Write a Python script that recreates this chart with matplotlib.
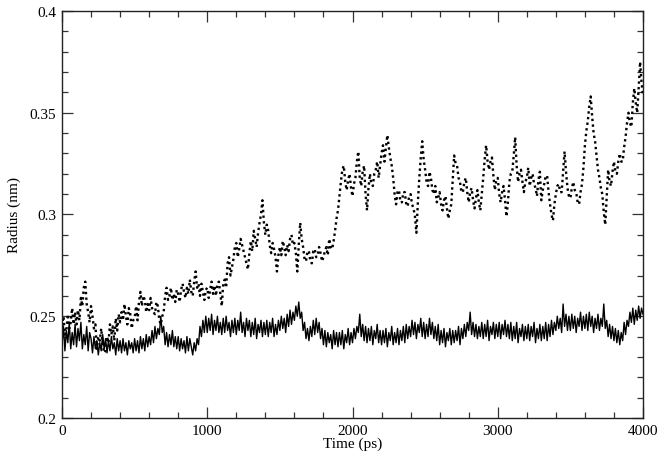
#!/usr/bin/env python3
"""Radius vs time for two trajectories, Grace-style plot."""
import numpy as np
import matplotlib

matplotlib.use("Agg")
import matplotlib.pyplot as plt
from matplotlib.ticker import MultipleLocator, FuncFormatter

STEP_PS = 10

# solid trace, one value every 10 ps from 0 to 4000 ps (one row = 100 ps)
radius_solid = [
    0.236, 0.245, 0.233, 0.243, 0.237, 0.247, 0.234, 0.242, 0.236, 0.246,
    0.235, 0.244, 0.238, 0.247, 0.234, 0.241, 0.236, 0.245, 0.233, 0.242,
    0.239, 0.232, 0.240, 0.234, 0.238, 0.231, 0.237, 0.233, 0.241, 0.234,
    0.239, 0.232, 0.238, 0.233, 0.240, 0.234, 0.237, 0.231, 0.239, 0.233,
    0.238, 0.232, 0.239, 0.233, 0.237, 0.231, 0.238, 0.234, 0.237, 0.232,
    0.239, 0.233, 0.238, 0.232, 0.240, 0.234, 0.239, 0.233, 0.241, 0.235,
    0.240, 0.236, 0.243, 0.237, 0.245, 0.239, 0.244, 0.241, 0.250, 0.242,
    0.245, 0.236, 0.242, 0.235, 0.241, 0.236, 0.243, 0.235, 0.240, 0.234,
    0.240, 0.233, 0.239, 0.234, 0.238, 0.232, 0.240, 0.233, 0.239, 0.235,
    0.231, 0.237, 0.233, 0.239, 0.236, 0.245, 0.240, 0.248, 0.242, 0.250,
    0.242, 0.249, 0.243, 0.251, 0.241, 0.248, 0.243, 0.250, 0.242, 0.247,
    0.241, 0.249, 0.242, 0.250, 0.243, 0.247, 0.240, 0.248, 0.242, 0.249,
    0.241, 0.248, 0.243, 0.252, 0.242, 0.247, 0.240, 0.249, 0.243, 0.248,
    0.240, 0.247, 0.241, 0.249, 0.239, 0.246, 0.242, 0.248, 0.240, 0.247,
    0.241, 0.248, 0.240, 0.247, 0.242, 0.249, 0.240, 0.246, 0.241, 0.248,
    0.243, 0.250, 0.244, 0.249, 0.242, 0.251, 0.245, 0.253, 0.246, 0.252,
    0.248, 0.255, 0.250, 0.257, 0.249, 0.252, 0.243, 0.247, 0.239, 0.244,
    0.238, 0.245, 0.240, 0.248, 0.241, 0.249, 0.242, 0.247, 0.239, 0.244,
    0.236, 0.243, 0.235, 0.242, 0.237, 0.241, 0.234, 0.243, 0.236, 0.242,
    0.235, 0.242, 0.236, 0.243, 0.234, 0.241, 0.237, 0.244, 0.236, 0.242,
    0.237, 0.244, 0.239, 0.245, 0.242, 0.251, 0.240, 0.246, 0.238, 0.245,
    0.237, 0.244, 0.238, 0.245, 0.236, 0.243, 0.239, 0.246, 0.237, 0.243,
    0.236, 0.243, 0.237, 0.244, 0.235, 0.242, 0.238, 0.245, 0.236, 0.242,
    0.237, 0.244, 0.236, 0.243, 0.238, 0.245, 0.237, 0.246, 0.239, 0.245,
    0.240, 0.248, 0.241, 0.247, 0.239, 0.246, 0.242, 0.249, 0.240, 0.247,
    0.239, 0.246, 0.240, 0.249, 0.241, 0.247, 0.239, 0.245, 0.238, 0.246,
    0.236, 0.243, 0.237, 0.244, 0.235, 0.242, 0.238, 0.244, 0.236, 0.243,
    0.237, 0.243, 0.238, 0.245, 0.236, 0.244, 0.239, 0.246, 0.240, 0.247,
    0.243, 0.252, 0.241, 0.247, 0.240, 0.246, 0.239, 0.245, 0.240, 0.247,
    0.239, 0.246, 0.240, 0.248, 0.238, 0.245, 0.241, 0.247, 0.239, 0.246,
    0.240, 0.247, 0.239, 0.246, 0.241, 0.248, 0.240, 0.246, 0.239, 0.247,
    0.238, 0.245, 0.239, 0.247, 0.237, 0.244, 0.240, 0.246, 0.238, 0.245,
    0.239, 0.246, 0.238, 0.245, 0.240, 0.247, 0.237, 0.244, 0.239, 0.246,
    0.238, 0.245, 0.239, 0.247, 0.238, 0.246, 0.240, 0.248, 0.241, 0.247,
    0.243, 0.250, 0.244, 0.249, 0.242, 0.256, 0.245, 0.251, 0.243, 0.250,
    0.243, 0.251, 0.244, 0.250, 0.242, 0.249, 0.245, 0.252, 0.243, 0.250,
    0.244, 0.251, 0.243, 0.252, 0.245, 0.250, 0.242, 0.249, 0.244, 0.251,
    0.243, 0.249, 0.245, 0.256, 0.244, 0.248, 0.240, 0.246, 0.239, 0.245,
    0.238, 0.244, 0.237, 0.243, 0.236, 0.242, 0.238, 0.247, 0.241, 0.248,
    0.245, 0.252, 0.247, 0.254, 0.246, 0.253, 0.248, 0.255, 0.249, 0.254,
    0.251,
]

# dotted trace, same sampling
radius_dotted = [
    0.245, 0.250, 0.241, 0.243, 0.251, 0.244, 0.247, 0.254, 0.246, 0.252,
    0.246, 0.253, 0.248, 0.259, 0.255, 0.264, 0.267, 0.256, 0.252, 0.247,
    0.255, 0.250, 0.244, 0.246, 0.234, 0.240, 0.238, 0.244, 0.236, 0.232,
    0.233, 0.240, 0.237, 0.246, 0.241, 0.245, 0.238, 0.249, 0.243, 0.251,
    0.247, 0.252, 0.248, 0.256, 0.250, 0.246, 0.254, 0.251, 0.244, 0.248,
    0.249, 0.255, 0.248, 0.257, 0.262, 0.255, 0.260, 0.258, 0.252, 0.256,
    0.253, 0.259, 0.254, 0.252, 0.251, 0.257, 0.255, 0.248, 0.246, 0.250,
    0.252, 0.260, 0.264, 0.258, 0.260, 0.264, 0.258, 0.261, 0.257, 0.263,
    0.261, 0.257, 0.263, 0.266, 0.262, 0.259, 0.264, 0.261, 0.268, 0.262,
    0.260, 0.267, 0.272, 0.264, 0.266, 0.260, 0.266, 0.262, 0.258, 0.263,
    0.264, 0.259, 0.263, 0.267, 0.261, 0.265, 0.260, 0.266, 0.267, 0.261,
    0.255, 0.266, 0.268, 0.264, 0.276, 0.279, 0.270, 0.274, 0.278, 0.284,
    0.286, 0.279, 0.283, 0.288, 0.285, 0.282, 0.279, 0.276, 0.273, 0.281,
    0.287, 0.282, 0.292, 0.288, 0.284, 0.291, 0.296, 0.300, 0.307, 0.296,
    0.290, 0.295, 0.292, 0.285, 0.281, 0.286, 0.283, 0.279, 0.272, 0.280,
    0.284, 0.280, 0.287, 0.284, 0.280, 0.285, 0.282, 0.288, 0.290, 0.285,
    0.286, 0.281, 0.272, 0.285, 0.296, 0.288, 0.284, 0.278, 0.277, 0.282,
    0.282, 0.277, 0.276, 0.282, 0.283, 0.279, 0.280, 0.284, 0.281, 0.277,
    0.279, 0.282, 0.284, 0.280, 0.288, 0.284, 0.283, 0.287, 0.292, 0.298,
    0.302, 0.309, 0.316, 0.322, 0.324, 0.316, 0.312, 0.317, 0.320, 0.313,
    0.309, 0.315, 0.318, 0.326, 0.331, 0.318, 0.314, 0.321, 0.324, 0.310,
    0.302, 0.313, 0.320, 0.315, 0.314, 0.320, 0.322, 0.326, 0.318, 0.324,
    0.330, 0.334, 0.326, 0.333, 0.339, 0.333, 0.328, 0.324, 0.318, 0.310,
    0.305, 0.311, 0.312, 0.306, 0.306, 0.311, 0.311, 0.305, 0.304, 0.309,
    0.310, 0.305, 0.303, 0.299, 0.291, 0.306, 0.318, 0.328, 0.336, 0.327,
    0.322, 0.316, 0.314, 0.321, 0.318, 0.312, 0.310, 0.314, 0.306, 0.308,
    0.311, 0.305, 0.302, 0.307, 0.309, 0.303, 0.298, 0.302, 0.305, 0.317,
    0.329, 0.325, 0.324, 0.318, 0.316, 0.311, 0.311, 0.316, 0.318, 0.311,
    0.306, 0.311, 0.313, 0.307, 0.303, 0.308, 0.312, 0.306, 0.302, 0.310,
    0.318, 0.327, 0.334, 0.326, 0.322, 0.326, 0.328, 0.319, 0.312, 0.317,
    0.318, 0.310, 0.306, 0.311, 0.314, 0.307, 0.299, 0.306, 0.316, 0.320,
    0.321, 0.329, 0.338, 0.324, 0.316, 0.320, 0.322, 0.316, 0.311, 0.316,
    0.318, 0.323, 0.314, 0.318, 0.320, 0.315, 0.313, 0.309, 0.317, 0.321,
    0.307, 0.312, 0.315, 0.319, 0.319, 0.311, 0.305, 0.300, 0.297, 0.305,
    0.310, 0.314, 0.315, 0.311, 0.311, 0.321, 0.331, 0.321, 0.313, 0.309,
    0.308, 0.313, 0.316, 0.312, 0.311, 0.306, 0.305, 0.311, 0.315, 0.323,
    0.334, 0.341, 0.346, 0.353, 0.358, 0.348, 0.340, 0.336, 0.329, 0.322,
    0.318, 0.313, 0.310, 0.301, 0.295, 0.309, 0.322, 0.316, 0.314, 0.321,
    0.326, 0.321, 0.320, 0.326, 0.330, 0.326, 0.326, 0.333, 0.338, 0.345,
    0.350, 0.345, 0.343, 0.355, 0.362, 0.355, 0.350, 0.362, 0.375, 0.365,
    0.358,
]

time_solid = np.arange(len(radius_solid)) * STEP_PS
time_dotted = np.arange(len(radius_dotted)) * STEP_PS

plt.rcParams["font.family"] = ["Liberation Serif", "DejaVu Serif"]
plt.rcParams["font.size"] = 11

fig = plt.figure(figsize=(6.64, 4.64), dpi=100)
ax = fig.add_axes([62 / 664, 1 - 419 / 464, (643 - 62) / 664, (419 - 12) / 464])

ax.plot(time_solid, radius_solid, color="black", lw=1.0)
ax.plot(time_dotted, radius_dotted, color="black", lw=1.7, ls=(0, (1, 1.4)))

ax.set_xlim(0, 4000)
ax.set_ylim(0.2, 0.4)
ax.xaxis.set_major_locator(MultipleLocator(1000))
ax.xaxis.set_minor_locator(MultipleLocator(200))
ax.yaxis.set_major_locator(MultipleLocator(0.05))
ax.yaxis.set_minor_locator(MultipleLocator(0.01))
ax.yaxis.set_major_formatter(FuncFormatter(lambda v, _: f"{v:g}"))
ax.tick_params(which="both", direction="in", top=True, right=True,
               width=0.9, color="#333333")
ax.tick_params(which="major", length=8, pad=4)
ax.tick_params(which="minor", length=4.5)
for sp in ax.spines.values():
    sp.set_linewidth(1.0)
    sp.set_color("#222222")

ax.set_xlabel("Time (ps)", labelpad=0)
ax.set_ylabel("Radius (nm)", labelpad=6)

fig.savefig("out.png", dpi=100)
